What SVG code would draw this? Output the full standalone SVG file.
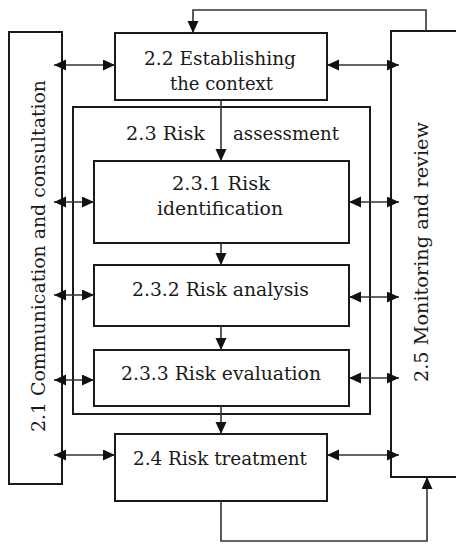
<svg xmlns="http://www.w3.org/2000/svg" width="456" height="544" viewBox="0 0 456 544">
<style>
.box{fill:#fff;stroke:#1a1a1a;stroke-width:2}
.lbl{font-family:'DejaVu Serif','Liberation Serif',serif;font-size:19px;fill:#1a1a1a;text-anchor:middle}
.con{fill:none;stroke:#333;stroke-width:1.6}
</style>
<defs>
<marker id="ah" markerUnits="userSpaceOnUse" markerWidth="13" markerHeight="12" refX="12" refY="5.5" orient="auto-start-reverse">
<path d="M0,0 L12,5.5 L0,11 z" fill="#111"/>
</marker>
</defs>
<rect width="456" height="544" fill="#fff"/>
<g id="n21">
<rect class="box" x="9" y="32" width="53" height="452"/>
<text class="lbl" transform="translate(45,256) rotate(-90)" textLength="352" lengthAdjust="spacingAndGlyphs">2.1 Communication and consultation</text>
</g>
<g id="n25">
<rect class="box" x="391" y="31" width="70" height="446"/>
<text class="lbl" transform="translate(428,252) rotate(-90)" textLength="260" lengthAdjust="spacingAndGlyphs">2.5 Monitoring and review</text>
</g>
<g id="n22">
<rect class="box" x="115" y="33" width="212" height="67"/>
<text class="lbl" x="220" y="65" textLength="152" lengthAdjust="spacingAndGlyphs">2.2 Establishing</text>
<text class="lbl" x="221.5" y="90" textLength="103" lengthAdjust="spacingAndGlyphs">the context</text>
</g>
<g id="n23">
<rect class="box" x="73" y="107" width="297" height="307"/>
<text class="lbl" x="165.5" y="140" textLength="79" lengthAdjust="spacingAndGlyphs">2.3 Risk</text>
<text class="lbl" x="286" y="140" textLength="106" lengthAdjust="spacingAndGlyphs">assessment</text>
</g>
<g id="n231">
<rect class="box" x="94" y="161" width="255" height="82"/>
<text class="lbl" x="221" y="190" textLength="98" lengthAdjust="spacingAndGlyphs">2.3.1 Risk</text>
<text class="lbl" x="220" y="215" textLength="126" lengthAdjust="spacingAndGlyphs">identification</text>
</g>
<g id="n232">
<rect class="box" x="94" y="265" width="255" height="61"/>
<text class="lbl" x="220.5" y="296" textLength="177" lengthAdjust="spacingAndGlyphs">2.3.2 Risk analysis</text>
</g>
<g id="n233">
<rect class="box" x="94" y="350" width="255" height="56"/>
<text class="lbl" x="221" y="380" textLength="200" lengthAdjust="spacingAndGlyphs">2.3.3 Risk evaluation</text>
</g>
<g id="n24">
<rect class="box" x="115" y="434" width="212" height="67"/>
<text class="lbl" x="220" y="465" textLength="174" lengthAdjust="spacingAndGlyphs">2.4 Risk treatment</text>
</g>
<g id="connectors">
<path class="con" d="M426,31 V10 H193 V33" marker-end="url(#ah)"/>
<path class="con" d="M221,501 V541 H427 V477" marker-end="url(#ah)"/>
<line class="con" x1="221" y1="100" x2="221" y2="161" marker-end="url(#ah)"/>
<line class="con" x1="221" y1="243" x2="221" y2="265" marker-end="url(#ah)"/>
<line class="con" x1="221" y1="326" x2="221" y2="350" marker-end="url(#ah)"/>
<line class="con" x1="221" y1="406" x2="221" y2="434" marker-end="url(#ah)"/>
<line class="con" x1="54" y1="65" x2="115" y2="65" marker-start="url(#ah)" marker-end="url(#ah)"/>
<line class="con" x1="54" y1="202" x2="94" y2="202" marker-start="url(#ah)" marker-end="url(#ah)"/>
<line class="con" x1="54" y1="295" x2="94" y2="295" marker-start="url(#ah)" marker-end="url(#ah)"/>
<line class="con" x1="54" y1="380" x2="94" y2="380" marker-start="url(#ah)" marker-end="url(#ah)"/>
<line class="con" x1="54" y1="455" x2="115" y2="455" marker-start="url(#ah)" marker-end="url(#ah)"/>
<line class="con" x1="327" y1="65" x2="399" y2="65" marker-start="url(#ah)" marker-end="url(#ah)"/>
<line class="con" x1="349" y1="202" x2="399" y2="202" marker-start="url(#ah)" marker-end="url(#ah)"/>
<line class="con" x1="349" y1="297" x2="399" y2="297" marker-start="url(#ah)" marker-end="url(#ah)"/>
<line class="con" x1="349" y1="378" x2="399" y2="378" marker-start="url(#ah)" marker-end="url(#ah)"/>
<line class="con" x1="327" y1="455" x2="399" y2="455" marker-start="url(#ah)" marker-end="url(#ah)"/>
</g>
</svg>
